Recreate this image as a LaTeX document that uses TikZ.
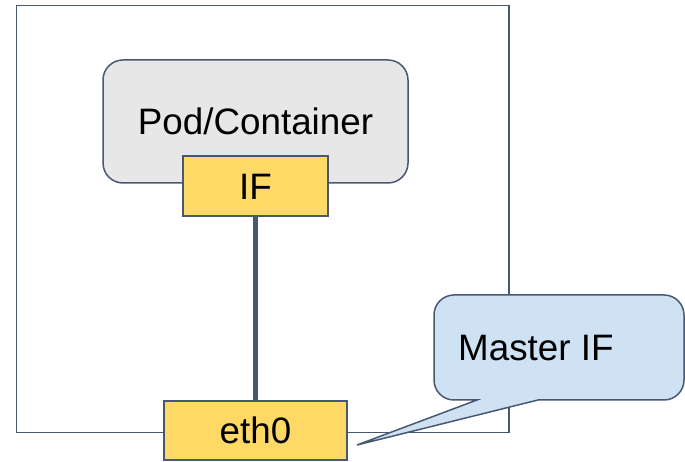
\documentclass[tikz,border=0pt]{standalone}
\usepackage{fontspec}
\setmainfont{Liberation Sans}
\definecolor{edge}{HTML}{475873}
\definecolor{podgray}{HTML}{E7E7E8}
\definecolor{ifyellow}{HTML}{FFD966}
\definecolor{callblue}{HTML}{CFE2F3}
\begin{document}
\begin{tikzpicture}[x=1pt,y=1pt,
  lbl/.style={font=\fontsize{36.8}{44}\selectfont, text height=26.4pt, text depth=0pt, inner sep=0pt},
  box/.style={lbl, draw=edge, line width=1.5pt, rectangle},
  hostbox/.style={draw=edge, line width=1.5pt},
  podbox/.style={box, fill=podgray, rounded corners=20pt, minimum width=305pt, minimum height=123pt},
  ifbox/.style={box, fill=ifyellow, minimum height=60pt},
  link/.style={draw=edge, line width=5.5pt},
  callout/.style={draw=edge, fill=callblue, line width=1.5pt, line join=miter}]
  \useasboundingbox (0,0) rectangle (685,462);

  % host boundary
  \draw[hostbox] (16.5,29.5) rectangle (509,456.5);

  % pod with its interface
  \node[podbox] (pod) at (255.5,340.5) {Pod/Container};
  \node[ifbox, minimum width=145pt] (if) at (255.5,276) {IF};

  % host interface
  \node[ifbox, minimum width=183pt, minimum height=59pt] (eth) at (255.5,31.5) {eth0};

  % veth link between the two interfaces
  \draw[link] (if.south) -- (eth.north);

  % speech-bubble label pointing at eth0
  \coordinate (tip) at (357,17);
  \draw[callout] (538,62) -- (664,62) arc[start angle=-90,end angle=0,radius=20]
    -- (684,147) arc[start angle=0,end angle=90,radius=20]
    -- (454,167) arc[start angle=90,end angle=180,radius=20]
    -- (434,82) arc[start angle=180,end angle=270,radius=20]
    -- (477,62) -- (tip) -- cycle;
  \node[lbl, anchor=west] (master) at (458,114.5) {Master IF};
\end{tikzpicture}
\end{document}
